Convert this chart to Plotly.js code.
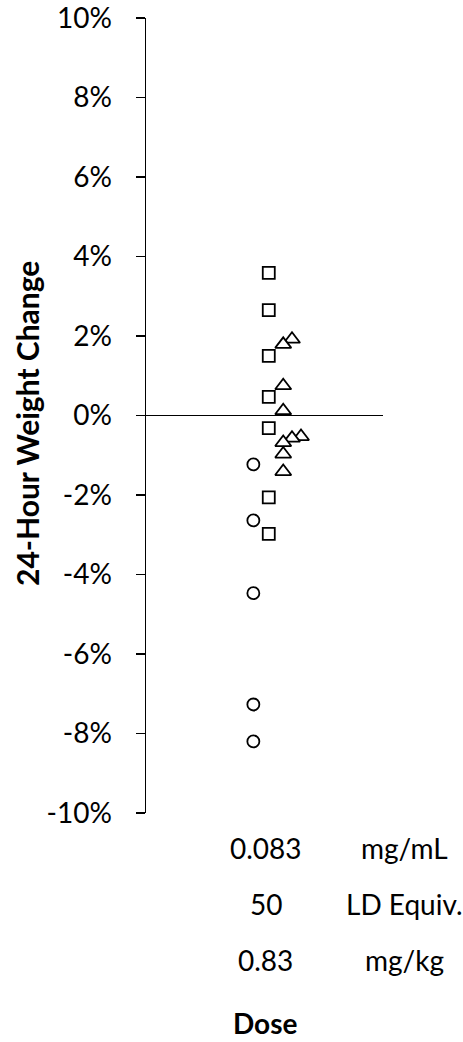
<!DOCTYPE html>
<html>
<head>
<meta charset="utf-8">
<script src="https://cdn.plot.ly/plotly-3.0.1.min.js"></script>
<style>
html,body{margin:0;padding:0;background:#fff;}
#chart{width:463px;height:1042px;}
</style>
</head>
<body>
<div id="chart"></div>
<script>
// Circles
var circleX = [4.53, 4.53, 4.53, 4.53, 4.53];
var circleY = [-1.23, -2.64, -4.47, -7.27, -8.20];
// Squares
var squareX = [5.18, 5.18, 5.18, 5.18, 5.18, 5.18, 5.18];
var squareY = [3.59, 2.65, 1.50, 0.47, -0.32, -2.06, -2.98];
// Triangles
var triX = [6.16, 5.79, 5.79, 5.79, 6.54, 6.16, 5.79, 5.79, 5.79];
var triY = [1.92, 1.79, 0.75, 0.12, -0.53, -0.57, -0.68, -0.97, -1.41];

var yTickVals = [-10, -8, -6, -4, -2, 0, 2, 4, 6, 8, 10];
var yTickText = ['-10%', '-8%', '-6%', '-4%', '-2%', '0%', '2%', '4%', '6%', '8%', '10%'];

var doseValues = ['0.083', '50', '0.83'];
var doseUnits = ['mg/mL', 'LD Equiv.', 'mg/kg'];
var xTitle = 'Dose';
var yTitle = '24-Hour Weight Change';

var FONT = 'Lato, "Open Sans", sans-serif';
var FS = 28;
var mk = function (sym, size) {
  return {symbol: sym, size: size, color: '#ffffff', line: {color: '#000000', width: 1.8}};
};

var traces = [
  {x: circleX, y: circleY, type: 'scatter', mode: 'markers', marker: mk('circle', 12), cliponaxis: false},
  {x: squareX, y: squareY, type: 'scatter', mode: 'markers', marker: mk('square', 12), cliponaxis: false},
  {x: triX, y: triY, type: 'scatter', mode: 'markers', marker: mk('triangle-up', 14), cliponaxis: false}
];

var rowY = [-0.0446, -0.115, -0.185];
var annotations = [];
for (var i = 0; i < doseValues.length; i++) {
  annotations.push({xref: 'paper', yref: 'paper', x: 0.506, y: rowY[i], text: doseValues[i],
    showarrow: false, xanchor: 'center', yanchor: 'middle', font: {family: FONT, size: FS, color: '#000'}});
  annotations.push({xref: 'paper', yref: 'paper', x: 1.089, y: rowY[i], text: doseUnits[i],
    showarrow: false, xanchor: 'center', yanchor: 'middle', font: {family: FONT, size: FS, color: '#000'}});
}
annotations.push({xref: 'paper', yref: 'paper', x: 0.506, y: -0.264, text: '<b>' + xTitle + '</b>',
  showarrow: false, xanchor: 'center', yanchor: 'middle', borderpad: 0, font: {family: FONT, size: 28, color: '#000'}});
annotations.push({xref: 'paper', yref: 'paper', x: -0.5, y: 0.49, text: '<b>' + yTitle + '</b>',
  textangle: -90, showarrow: false, xanchor: 'center', yanchor: 'middle', font: {family: FONT, size: 30, color: '#000'}});

var layout = {
  width: 463, height: 1042,
  margin: {l: 146, r: 80, t: 17.5, b: 228.5, pad: 0},
  paper_bgcolor: '#ffffff', plot_bgcolor: '#ffffff',
  showlegend: false,
  font: {family: FONT, size: FS, color: '#000'},
  xaxis: {range: [0, 10], showgrid: false, zeroline: false, showline: false, showticklabels: false, ticks: '', fixedrange: true},
  yaxis: {range: [-10, 10], tickvals: yTickVals, ticktext: yTickText,
    showgrid: false, zeroline: true, zerolinecolor: '#000', zerolinewidth: 1.5,
    showline: true, linecolor: '#000', linewidth: 1.5,
    ticks: 'outside', ticklen: 9, tickwidth: 1.5, tickcolor: '#000',
    ticklabelstandoff: 18, ticklabeloverflow: 'allow',
    tickfont: {family: FONT, size: FS, color: '#000'}, automargin: false, fixedrange: true},
  annotations: annotations
};

Plotly.newPlot('chart', traces, layout, {displayModeBar: false, staticPlot: true});
</script>
</body>
</html>
